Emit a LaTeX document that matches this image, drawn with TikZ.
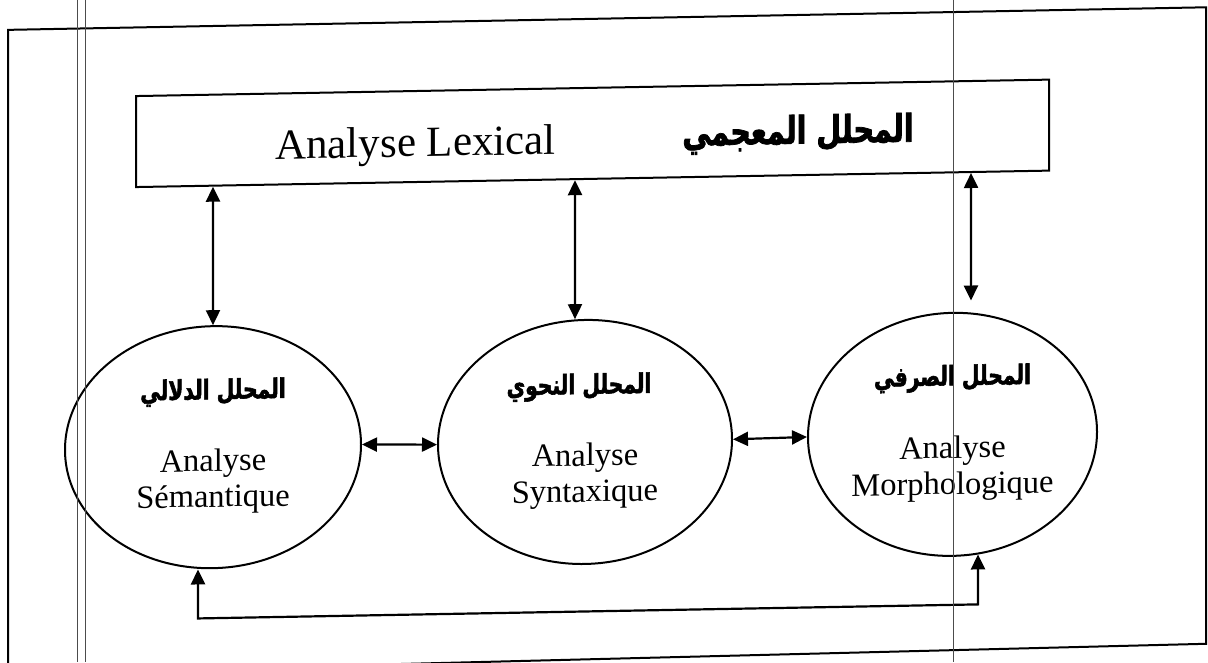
\documentclass[tikz,border=0pt]{standalone}
\usepackage{fontspec}
\setmainfont{Liberation Serif}
\newfontfamily\arabicfont[Script=Arabic, FakeStretch=0.75, FakeBold=2]{DejaVu Sans}
\TeXXeTstate=1
\usetikzlibrary{arrows.meta,shapes.geometric}

\tikzset{
  scanline/.style={line width=1pt, black!70},
  frameline/.style={line width=2pt, line join=miter},
  lexbox/.style={draw, rectangle, line width=2pt, inner sep=0pt,
    minimum width=913pt, minimum height=91pt},
  analyser/.style={draw, ellipse, line width=2pt, inner sep=0pt},
  entxt/.style={inner sep=0pt, anchor=base, font=\fontsize{#1}{#1}\selectfont},
  artxt/.style={inner sep=0pt, anchor=base, font=\arabicfont\bfseries\fontsize{#1}{#1}\selectfont},
  biarrow/.style={line width=2.2pt, {Triangle[length=15pt,width=14pt]}-{Triangle[length=15pt,width=14pt]}},
}

\begin{document}
\begin{tikzpicture}[x=1pt, y=-1pt]
\useasboundingbox (0,0) rectangle (1208,662);

% the whole sheet sits slightly sheared on the page
\begin{scope}[transform canvas={yslant=0.018}]
  % outer frame
  \draw[frameline] (8,30) -- (1206,29) -- (1206,665.5) -- (8,674) -- cycle;

  % lexical analyser
  \node[lexbox] (lex) at (592.5,144) {};
  \node[entxt=43] (lexfr) at (415.5,164) {Analyse Lexical};
  \node[artxt=38] (lexar) at (798,158) {\beginR المحلل المعجمي\endR};

  % the three analysers
  \node[analyser, minimum width=296pt, minimum height=242pt] (sem) at (213,451) {};
  \node[analyser, minimum width=294pt, minimum height=244pt] (syn) at (585,452.5) {};
  \node[analyser, minimum width=289pt, minimum height=243pt] (mor) at (952.5,451.5) {};

  \node[artxt=27] (semar) at ([yshift=48pt]sem.center) {\beginR المحلل الدلالي\endR};
  \node[entxt=32.5] (semen1) at ([yshift=-24pt]sem.center) {Analyse};
  \node[entxt=32.5] (semen2) at ([yshift=-60pt]sem.center) {Sémantique};

  \node[artxt=27] (synar) at ([xshift=-6pt,yshift=48pt]syn.center) {\beginR المحلل النحوي\endR};
  \node[entxt=32.5] (synen1) at ([yshift=-24pt]syn.center) {Analyse};
  \node[entxt=32.5] (synen2) at ([yshift=-60pt]syn.center) {Syntaxique};

  \node[artxt=27] (morar) at ([yshift=49pt]mor.center) {\beginR المحلل الصرفي\endR};
  \node[entxt=32.5] (moren1) at ([yshift=-24pt]mor.center) {Analyse};
  \node[entxt=32.5] (moren2) at ([yshift=-60pt]mor.center) {Morphologique};

  % links to the lexical analyser
  \draw[biarrow] (lex.south -| sem.north) -- (sem.north);
  \draw[biarrow] ([xshift=-10pt]syn.north |- lex.south) -- ([xshift=-10pt]syn.north);
  \coordinate (mortip) at ([xshift=18.5pt,yshift=11pt]mor.north);
  \draw[biarrow] (lex.south -| mortip) -- (mortip);

  % links between neighbouring analysers
  \draw[biarrow] (sem.east) -- (syn.west);
  \draw[biarrow] (syn.east) -- (mor.west);

  % semantic <-> morphological link underneath
  \draw[biarrow, line join=miter] ([xshift=-15pt]sem.south) -- ++(0,49) -| ([xshift=25.5pt,yshift=2pt]mor.south);
\end{scope}

% vertical rules running across the sheet
\draw[scanline] (77,0) -- (77,662);
\draw[scanline] (85.5,0) -- (85.5,662);
\draw[scanline] (953,0) -- (953,662);
\end{tikzpicture}
\end{document}
